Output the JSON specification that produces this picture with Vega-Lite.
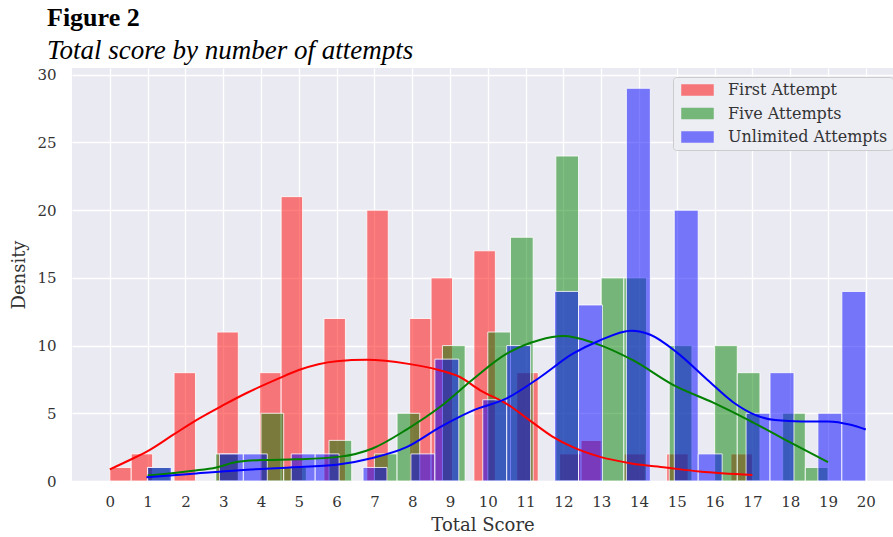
{
  "$schema": "https://vega.github.io/schema/vega-lite/v6.json",
  "autosize": {"type": "none"},
  "padding": {"left": 72, "top": 68, "right": 0, "bottom": 56},
  "width": 821,
  "height": 413,
  "background": "white",
  "title": {
    "text": "Figure 2",
    "subtitle": "Total score by number of attempts",
    "anchor": "start",
    "frame": "group",
    "dx": -25,
    "offset": 4,
    "font": "Liberation Serif",
    "fontSize": 26,
    "fontWeight": "bold",
    "color": "black",
    "subtitleFont": "Liberation Serif",
    "subtitleFontSize": 27,
    "subtitleFontStyle": "italic",
    "subtitleColor": "black",
    "subtitlePadding": 7
  },
  "config": {
    "view": {"fill": "#EAEAF2", "stroke": null},
    "axis": {
      "labelFont": "DejaVu Serif",
      "labelFontSize": 15,
      "labelColor": "#333",
      "titleFont": "DejaVu Serif",
      "titleFontSize": 18,
      "titleFontWeight": "normal",
      "titleColor": "#333",
      "ticks": false,
      "domain": false,
      "gridColor": "white",
      "gridWidth": 1.3,
      "gridOpacity": 1
    },
    "legend": {
      "labelFont": "DejaVu Serif",
      "labelFontSize": 16,
      "labelColor": "#333"
    }
  },
  "datasets": {
    "bars": [
      {"group": "First Attempt", "x0": 0.0, "x1": 0.5667, "count": 1},
      {"group": "First Attempt", "x0": 0.5667, "x1": 1.1333, "count": 2},
      {"group": "First Attempt", "x0": 1.7, "x1": 2.2667, "count": 8},
      {"group": "First Attempt", "x0": 2.8333, "x1": 3.4, "count": 11},
      {"group": "First Attempt", "x0": 3.9667, "x1": 4.5333, "count": 8},
      {"group": "First Attempt", "x0": 4.5333, "x1": 5.1, "count": 21},
      {"group": "First Attempt", "x0": 5.6667, "x1": 6.2333, "count": 12},
      {"group": "First Attempt", "x0": 6.8, "x1": 7.3667, "count": 20},
      {"group": "First Attempt", "x0": 7.9333, "x1": 8.5, "count": 12},
      {"group": "First Attempt", "x0": 8.5, "x1": 9.0667, "count": 15},
      {"group": "First Attempt", "x0": 9.6333, "x1": 10.2, "count": 17},
      {"group": "First Attempt", "x0": 10.7667, "x1": 11.3333, "count": 8},
      {"group": "First Attempt", "x0": 11.9, "x1": 12.4667, "count": 2},
      {"group": "First Attempt", "x0": 12.4667, "x1": 13.0333, "count": 3},
      {"group": "First Attempt", "x0": 13.6, "x1": 14.1667, "count": 2},
      {"group": "First Attempt", "x0": 14.7333, "x1": 15.3, "count": 2},
      {"group": "First Attempt", "x0": 16.4333, "x1": 17.0, "count": 2},
      {"group": "Five Attempts", "x0": 1.0, "x1": 1.6, "count": 1},
      {"group": "Five Attempts", "x0": 2.8, "x1": 3.4, "count": 2},
      {"group": "Five Attempts", "x0": 4.0, "x1": 4.6, "count": 5},
      {"group": "Five Attempts", "x0": 4.6, "x1": 5.2, "count": 1},
      {"group": "Five Attempts", "x0": 5.8, "x1": 6.4, "count": 3},
      {"group": "Five Attempts", "x0": 7.0, "x1": 7.6, "count": 2},
      {"group": "Five Attempts", "x0": 7.6, "x1": 8.2, "count": 5},
      {"group": "Five Attempts", "x0": 8.8, "x1": 9.4, "count": 10},
      {"group": "Five Attempts", "x0": 10.0, "x1": 10.6, "count": 11},
      {"group": "Five Attempts", "x0": 10.6, "x1": 11.2, "count": 18},
      {"group": "Five Attempts", "x0": 11.8, "x1": 12.4, "count": 24},
      {"group": "Five Attempts", "x0": 13.0, "x1": 13.6, "count": 15},
      {"group": "Five Attempts", "x0": 13.6, "x1": 14.2, "count": 15},
      {"group": "Five Attempts", "x0": 14.8, "x1": 15.4, "count": 10},
      {"group": "Five Attempts", "x0": 16.0, "x1": 16.6, "count": 10},
      {"group": "Five Attempts", "x0": 16.6, "x1": 17.2, "count": 8},
      {"group": "Five Attempts", "x0": 17.8, "x1": 18.4, "count": 5},
      {"group": "Five Attempts", "x0": 18.4, "x1": 19.0, "count": 1},
      {"group": "Unlimited Attempts", "x0": 1.0, "x1": 1.6333, "count": 1},
      {"group": "Unlimited Attempts", "x0": 2.9, "x1": 3.5333, "count": 2},
      {"group": "Unlimited Attempts", "x0": 3.5333, "x1": 4.1667, "count": 2},
      {"group": "Unlimited Attempts", "x0": 4.8, "x1": 5.4333, "count": 2},
      {"group": "Unlimited Attempts", "x0": 5.4333, "x1": 6.0667, "count": 2},
      {"group": "Unlimited Attempts", "x0": 6.7, "x1": 7.3333, "count": 1},
      {"group": "Unlimited Attempts", "x0": 7.9667, "x1": 8.6, "count": 2},
      {"group": "Unlimited Attempts", "x0": 8.6, "x1": 9.2333, "count": 9},
      {"group": "Unlimited Attempts", "x0": 9.8667, "x1": 10.5, "count": 6},
      {"group": "Unlimited Attempts", "x0": 10.5, "x1": 11.1333, "count": 10},
      {"group": "Unlimited Attempts", "x0": 11.7667, "x1": 12.4, "count": 14},
      {"group": "Unlimited Attempts", "x0": 12.4, "x1": 13.0333, "count": 13},
      {"group": "Unlimited Attempts", "x0": 13.6667, "x1": 14.3, "count": 29},
      {"group": "Unlimited Attempts", "x0": 14.9333, "x1": 15.5667, "count": 20},
      {"group": "Unlimited Attempts", "x0": 15.5667, "x1": 16.2, "count": 2},
      {"group": "Unlimited Attempts", "x0": 16.8333, "x1": 17.4667, "count": 5},
      {"group": "Unlimited Attempts", "x0": 17.4667, "x1": 18.1, "count": 8},
      {"group": "Unlimited Attempts", "x0": 18.7333, "x1": 19.3667, "count": 5},
      {"group": "Unlimited Attempts", "x0": 19.3667, "x1": 20.0, "count": 14}
    ],
    "kde": [
      {"group": "First Attempt", "x": 0.0, "y": 0.86},
      {"group": "First Attempt", "x": 0.53, "y": 1.55},
      {"group": "First Attempt", "x": 1.06, "y": 2.3},
      {"group": "First Attempt", "x": 1.67, "y": 3.4},
      {"group": "First Attempt", "x": 2.29, "y": 4.5},
      {"group": "First Attempt", "x": 3.0, "y": 5.6},
      {"group": "First Attempt", "x": 3.62, "y": 6.5},
      {"group": "First Attempt", "x": 4.41, "y": 7.5},
      {"group": "First Attempt", "x": 5.0, "y": 8.2},
      {"group": "First Attempt", "x": 6.0, "y": 8.85},
      {"group": "First Attempt", "x": 6.8, "y": 8.95},
      {"group": "First Attempt", "x": 7.9, "y": 8.65},
      {"group": "First Attempt", "x": 8.7, "y": 8.2},
      {"group": "First Attempt", "x": 9.25, "y": 7.7},
      {"group": "First Attempt", "x": 9.8, "y": 6.7},
      {"group": "First Attempt", "x": 10.5, "y": 5.7},
      {"group": "First Attempt", "x": 11.1, "y": 4.5},
      {"group": "First Attempt", "x": 11.7, "y": 3.3},
      {"group": "First Attempt", "x": 12.25, "y": 2.5},
      {"group": "First Attempt", "x": 12.95, "y": 1.8},
      {"group": "First Attempt", "x": 13.8, "y": 1.3},
      {"group": "First Attempt", "x": 14.7, "y": 1.0},
      {"group": "First Attempt", "x": 15.6, "y": 0.7},
      {"group": "First Attempt", "x": 17.0, "y": 0.45},
      {"group": "Five Attempts", "x": 1.0, "y": 0.4},
      {"group": "Five Attempts", "x": 2.2, "y": 0.75},
      {"group": "Five Attempts", "x": 2.82, "y": 1.0},
      {"group": "Five Attempts", "x": 3.35, "y": 1.4},
      {"group": "Five Attempts", "x": 4.05, "y": 1.55},
      {"group": "Five Attempts", "x": 4.93, "y": 1.6},
      {"group": "Five Attempts", "x": 6.1, "y": 1.8},
      {"group": "Five Attempts", "x": 6.95, "y": 2.4},
      {"group": "Five Attempts", "x": 7.85, "y": 3.8},
      {"group": "Five Attempts", "x": 8.75, "y": 5.5},
      {"group": "Five Attempts", "x": 9.6, "y": 7.5},
      {"group": "Five Attempts", "x": 10.5, "y": 9.4},
      {"group": "Five Attempts", "x": 11.35, "y": 10.4},
      {"group": "Five Attempts", "x": 12.0, "y": 10.7},
      {"group": "Five Attempts", "x": 12.8, "y": 10.2},
      {"group": "Five Attempts", "x": 13.85, "y": 8.9},
      {"group": "Five Attempts", "x": 14.9, "y": 7.1},
      {"group": "Five Attempts", "x": 15.95, "y": 5.8},
      {"group": "Five Attempts", "x": 16.9, "y": 4.5},
      {"group": "Five Attempts", "x": 17.9, "y": 3.0},
      {"group": "Five Attempts", "x": 19.0, "y": 1.4},
      {"group": "Unlimited Attempts", "x": 0.97, "y": 0.27},
      {"group": "Unlimited Attempts", "x": 2.12, "y": 0.52},
      {"group": "Unlimited Attempts", "x": 3.44, "y": 0.8},
      {"group": "Unlimited Attempts", "x": 4.76, "y": 1.0},
      {"group": "Unlimited Attempts", "x": 6.0, "y": 1.2},
      {"group": "Unlimited Attempts", "x": 6.95, "y": 1.7},
      {"group": "Unlimited Attempts", "x": 7.85, "y": 2.5},
      {"group": "Unlimited Attempts", "x": 8.75, "y": 4.0},
      {"group": "Unlimited Attempts", "x": 9.6, "y": 5.2},
      {"group": "Unlimited Attempts", "x": 10.5, "y": 6.1},
      {"group": "Unlimited Attempts", "x": 11.4, "y": 7.7},
      {"group": "Unlimited Attempts", "x": 12.25, "y": 9.4},
      {"group": "Unlimited Attempts", "x": 12.9, "y": 10.3},
      {"group": "Unlimited Attempts", "x": 13.8, "y": 11.1},
      {"group": "Unlimited Attempts", "x": 14.3, "y": 10.8},
      {"group": "Unlimited Attempts", "x": 15.0, "y": 9.5},
      {"group": "Unlimited Attempts", "x": 15.8, "y": 7.5},
      {"group": "Unlimited Attempts", "x": 16.5, "y": 5.8},
      {"group": "Unlimited Attempts", "x": 17.1, "y": 4.85},
      {"group": "Unlimited Attempts", "x": 17.6, "y": 4.5},
      {"group": "Unlimited Attempts", "x": 18.3, "y": 4.4},
      {"group": "Unlimited Attempts", "x": 19.0, "y": 4.4},
      {"group": "Unlimited Attempts", "x": 19.6, "y": 4.15},
      {"group": "Unlimited Attempts", "x": 20.0, "y": 3.8}
    ]
  },
  "layer": [
    {
      "data": {"name": "bars"},
      "mark": {"type": "bar", "fillOpacity": 0.5, "stroke": "white", "strokeWidth": 1, "strokeOpacity": 0.8},
      "encoding": {
        "x": {
          "field": "x0", "type": "quantitative",
          "scale": {"domain": [-1, 20.72], "nice": false, "zero": false},
          "axis": {"values": [0,1,2,3,4,5,6,7,8,9,10,11,12,13,14,15,16,17,18,19,20], "title": "Total Score", "labelPadding": 13, "titlePadding": 7}
        },
        "x2": {"field": "x1"},
        "y": {
          "field": "count", "type": "quantitative",
          "scale": {"domain": [0, 30.5], "nice": false},
          "axis": {"values": [0,5,10,15,20,25,30], "title": "Density", "labelPadding": 16, "titlePadding": 8}
        },
        "y2": {"datum": 0},
        "color": {
          "field": "group", "type": "nominal",
          "scale": {"domain": ["First Attempt", "Five Attempts", "Unlimited Attempts"], "range": ["red", "green", "blue"]},
          "legend": {
            "title": null,
            "orient": "none",
            "legendX": 601,
            "legendY": 9,
            "padding": 5,
            "fillColor": "#EDEDF4",
            "strokeColor": "#CCCCCC",
            "cornerRadius": 3,
            "symbolType": "M-2.133,-0.733L2.133,-0.733L2.133,0.733L-2.133,0.733Z",
            "symbolSize": 225,
            "symbolOffset": 11.5,
            "symbolOpacity": 0.5,
            "symbolStrokeColor": "white",
            "symbolStrokeWidth": 0.5,
            "labelOffset": 22.5,
            "rowPadding": 7.5,
            "labelLimit": 300
          }
        }
      }
    },
    {
      "data": {"name": "kde"},
      "mark": {"type": "line", "strokeWidth": 2, "interpolate": "monotone"},
      "encoding": {
        "x": {"field": "x", "type": "quantitative"},
        "y": {"field": "y", "type": "quantitative"},
        "color": {"field": "group", "type": "nominal", "legend": null}
      }
    }
  ]
}
